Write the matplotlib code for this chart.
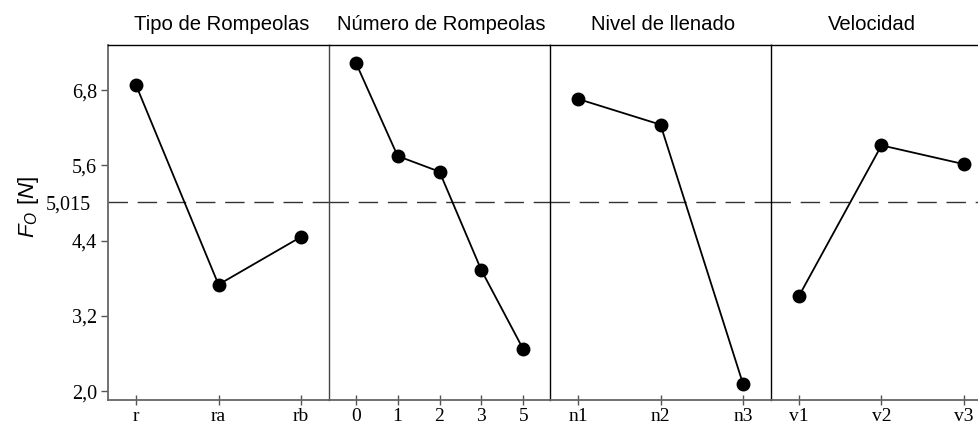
import matplotlib
matplotlib.use("Agg")
import matplotlib.pyplot as plt

plt.rcParams['mathtext.fontset'] = 'custom'
plt.rcParams['mathtext.it'] = 'Liberation Sans:italic'
plt.rcParams['mathtext.rm'] = 'Liberation Sans'

# Factor names and level labels
factors = ["Tipo de Rompeolas", "Número de Rompeolas", "Nivel de llenado", "Velocidad"]
levels_tipo = ["r", "ra", "rb"]
levels_numero = ["0", "1", "2", "3", "5"]
levels_nivel = ["n1", "n2", "n3"]
levels_vel = ["v1", "v2", "v3"]

# Mean response for each level
means_tipo = [6.88, 3.70, 4.46]
means_numero = [7.24, 5.75, 5.50, 3.93, 2.67]
means_nivel = [6.66, 6.25, 2.12]
means_vel = [3.52, 5.92, 5.62]

grand_mean = 5.015
y_ticks = [2.0, 3.2, 4.4, 5.6, 6.8]
y_ticklabels = ["2,0", "3,2", "4,4", "5,6", "6,8"]
mean_label = "5,015"

levels = [levels_tipo, levels_numero, levels_nivel, levels_vel]
means = [means_tipo, means_numero, means_nivel, means_vel]

W, H = 979, 430
fig = plt.figure(figsize=(W / 100, H / 100), dpi=100)

left_px, panel_w, top_px, bot_px = 108, 221, 45, 400
axes = []
for i in range(4):
    x0 = (left_px + i * panel_w) / W
    ax = fig.add_axes([x0, 1 - bot_px / H, panel_w / W, (bot_px - top_px) / H])
    axes.append(ax)

serif = "Liberation Serif"
sans = "Liberation Sans"
title_x = [222, 441, 663, 872]

for i, (ax, lev, m) in enumerate(zip(axes, levels, means)):
    n = len(lev)
    xs = list(range(n))
    margin = 0.34 if n == 3 else 0.64
    ax.set_xlim(-margin, n - 1 + margin)
    ax.set_ylim(1.86, 7.52)
    ax.axhline(grand_mean, color="#333333", lw=1.0, dashes=(14, 7), zorder=1)
    ax.plot(xs, m, color="black", lw=1.3, marker="o", markersize=9,
            markerfacecolor="black", markeredgecolor="black", zorder=3)
    ax.set_xticks(xs)
    ax.set_xticklabels(lev, fontfamily=serif, fontsize=14)
    ax.tick_params(axis="x", direction="inout", length=7, width=1,
                   color="#555555", pad=2)
    ax.spines["right"].set_visible(False)
    ax.spines["top"].set_color("black")
    ax.spines["top"].set_linewidth(1.0)
    ax.spines["bottom"].set_color("#666666")
    ax.spines["bottom"].set_linewidth(1.3)
    ax.spines["left"].set_linewidth(1.0)
    if i == 0:
        ax.spines["left"].set_color("#666666")
        ax.spines["left"].set_linewidth(1.3)
        ax.set_yticks(y_ticks)
        ax.set_yticklabels(y_ticklabels, fontfamily=serif, fontsize=14.5)
        ax.tick_params(axis="y", which="major", direction="out", length=5,
                       width=1, color="#555555", pad=3)
        ax.set_yticks([grand_mean], minor=True)
        ax.set_yticklabels([mean_label], minor=True, fontfamily=serif,
                           fontsize=14.5)
        ax.tick_params(axis="y", which="minor", length=0, pad=12)
    else:
        ax.spines["left"].set_color("#444444" if i == 1 else "black")
        ax.set_yticks([])
    fig.text(title_x[i] / W, 1 - 30 / H, factors[i], family=sans,
             fontsize=14.6, ha="center", va="baseline")

fig.text(29 / W, 1 - 207 / H, r"$F_{O}$ $[N]$", fontsize=16, rotation=90,
         ha="center", va="center")

fig.savefig("out.png", dpi=100)
